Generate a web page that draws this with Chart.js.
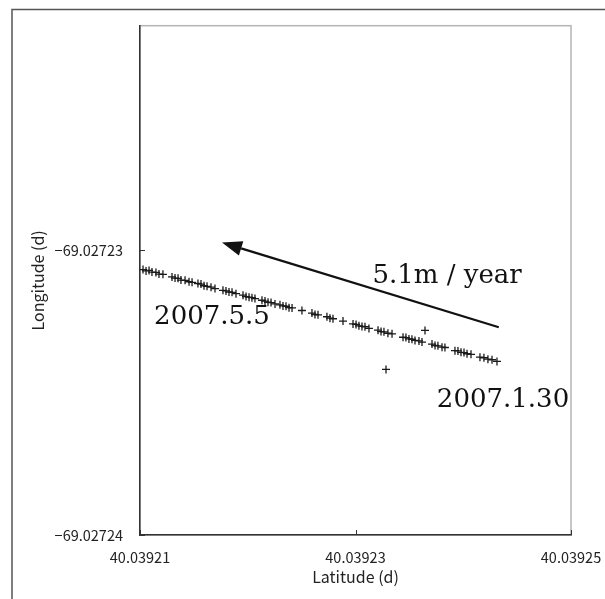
<!DOCTYPE html>
<html>
<head>
<meta charset="utf-8">
<script src="https://cdn.jsdelivr.net/npm/chart.js@4"></script>
<style>
html, body { margin: 0; padding: 0; background: #fff; }
</style>
</head>
<body>
<canvas id="gpsChart" width="605" height="599"></canvas>
<script>
// GPS track: latitude / longitude fixes (degrees)
const latitudes = [
    40.03921028, 40.03921056, 40.03921084, 40.03921111, 40.03921148, 40.03921176, 40.03921213,
    40.03921297, 40.03921325, 40.03921353, 40.03921380, 40.03921418, 40.03921455, 40.03921483,
    40.03921538, 40.03921566, 40.03921594, 40.03921622, 40.03921659, 40.03921696,
    40.03921770, 40.03921798, 40.03921826, 40.03921854, 40.03921891,
    40.03921956, 40.03921984, 40.03922012, 40.03922039, 40.03922067,
    40.03922132, 40.03922160, 40.03922188, 40.03922216, 40.03922253,
    40.03922299, 40.03922327, 40.03922355, 40.03922383, 40.03922411, 40.03922503,
    40.03922596, 40.03922624, 40.03922652, 40.03922735, 40.03922763, 40.03922791, 40.03922884,
    40.03922977, 40.03923005, 40.03923032, 40.03923060, 40.03923088, 40.03923125,
    40.03923209, 40.03923237, 40.03923264, 40.03923301, 40.03923339,
    40.03923441, 40.03923468, 40.03923496, 40.03923524, 40.03923552, 40.03923589, 40.03923617,
    40.03923710, 40.03923738, 40.03923765, 40.03923803, 40.03923830,
    40.03923923, 40.03923951, 40.03923979, 40.03924007, 40.03924035, 40.03924072,
    40.03924155, 40.03924192, 40.03924229, 40.03924267, 40.03924313,
    40.03923283, 40.03923645
];
const longitudes = [
    -69.02723067, -69.02723072, -69.02723070, -69.02723076, -69.02723077, -69.02723083, -69.02723084,
    -69.02723093, -69.02723097, -69.02723098, -69.02723104, -69.02723105, -69.02723110, -69.02723112,
    -69.02723116, -69.02723118, -69.02723124, -69.02723126, -69.02723129, -69.02723134,
    -69.02723140, -69.02723142, -69.02723146, -69.02723147, -69.02723152,
    -69.02723157, -69.02723162, -69.02723164, -69.02723166, -69.02723169,
    -69.02723175, -69.02723178, -69.02723182, -69.02723183, -69.02723188,
    -69.02723191, -69.02723195, -69.02723196, -69.02723201, -69.02723202, -69.02723211,
    -69.02723220, -69.02723225, -69.02723226, -69.02723233, -69.02723238, -69.02723240, -69.02723248,
    -69.02723258, -69.02723260, -69.02723265, -69.02723267, -69.02723268, -69.02723274,
    -69.02723280, -69.02723285, -69.02723286, -69.02723291, -69.02723293,
    -69.02723305, -69.02723306, -69.02723311, -69.02723312, -69.02723316, -69.02723318, -69.02723322,
    -69.02723329, -69.02723334, -69.02723335, -69.02723340, -69.02723341,
    -69.02723352, -69.02723353, -69.02723358, -69.02723359, -69.02723363, -69.02723365,
    -69.02723375, -69.02723377, -69.02723382, -69.02723384, -69.02723390,
    -69.02723418, -69.02723281
];

// Axis ticks
const xTickValues = [40.03921, 40.03923, 40.03925];
const yTickValues = [-69.02724, -69.02723];
const yMaxValue = -69.0272221;

// Annotations (data coordinates)
const arrowTail = [40.03924330, -69.02723270];
const arrowHead = [40.03921761, -69.02722972];
const noteTexts = ['5.1m / year', '2007.5.5', '2007.1.30'];
const noteLats = [40.03923850, 40.03921668, 40.03924369];
const noteLons = [-69.02723091, -69.02723235, -69.02723526];

const points = latitudes.map((lat, i) => ({ x: lat, y: longitudes[i] }));
const labelFont = '"Noto Sans CJK JP", "DejaVu Sans", sans-serif';

// Draw outer frame, plot box, inner tick marks, arrow and notes
const decorPlugin = {
    id: 'decor',
    beforeDraw(chart) {
        const ctx = chart.ctx;
        const area = chart.chartArea;
        ctx.save();
        ctx.fillStyle = '#fff';
        ctx.fillRect(0, 0, chart.width, chart.height);
        ctx.strokeStyle = '#555';
        ctx.lineWidth = 1.5;
        ctx.beginPath();
        ctx.moveTo(12, chart.height);
        ctx.lineTo(12, 9.5);
        ctx.lineTo(chart.width, 9.5);
        ctx.stroke();
        ctx.strokeStyle = '#b4b4b4';
        ctx.lineWidth = 1.5;
        ctx.strokeRect(area.left, area.top, area.right - area.left, area.bottom - area.top);
        ctx.restore();
    },
    afterDraw(chart) {
        const ctx = chart.ctx;
        const xs = chart.scales.x;
        const ys = chart.scales.y;
        const area = chart.chartArea;
        ctx.save();
        // inner ticks
        ctx.strokeStyle = '#333';
        ctx.lineWidth = 1;
        ctx.beginPath();
        yTickValues.forEach(v => {
            const py = Math.round(ys.getPixelForValue(v)) + 0.5;
            ctx.moveTo(area.left, py);
            ctx.lineTo(area.left + 5, py);
        });
        xTickValues.forEach(v => {
            const px = Math.round(xs.getPixelForValue(v)) + 0.5;
            ctx.moveTo(px, area.bottom);
            ctx.lineTo(px, area.bottom - 5);
        });
        ctx.stroke();

        // arrow
        const x1 = xs.getPixelForValue(arrowTail[0]);
        const y1 = ys.getPixelForValue(arrowTail[1]);
        const x2 = xs.getPixelForValue(arrowHead[0]);
        const y2 = ys.getPixelForValue(arrowHead[1]);
        const ang = Math.atan2(y2 - y1, x2 - x1);
        const headLen = 20, headHalf = 7.5;
        const bx = x2 - headLen * Math.cos(ang);
        const by = y2 - headLen * Math.sin(ang);
        ctx.strokeStyle = '#111';
        ctx.fillStyle = '#111';
        ctx.lineWidth = 2.2;
        ctx.beginPath();
        ctx.moveTo(x1, y1);
        ctx.lineTo(bx, by);
        ctx.stroke();
        ctx.beginPath();
        ctx.moveTo(x2, y2);
        ctx.lineTo(bx + headHalf * Math.sin(ang), by - headHalf * Math.cos(ang));
        ctx.lineTo(bx - headHalf * Math.sin(ang), by + headHalf * Math.cos(ang));
        ctx.closePath();
        ctx.fill();

        // notes
        ctx.font = '26px "DejaVu Serif", serif';
        ctx.textAlign = 'center';
        ctx.textBaseline = 'middle';
        noteTexts.forEach((t, i) => {
            ctx.fillText(t, xs.getPixelForValue(noteLats[i]), ys.getPixelForValue(noteLons[i]));
        });
        ctx.restore();
    }
};

const ctx = document.getElementById('gpsChart').getContext('2d');
new Chart(ctx, {
    type: 'scatter',
    data: {
        datasets: [{
            label: 'GPS',
            data: points,
            pointStyle: 'cross',
            pointRadius: 4,
            pointBorderWidth: 1.3,
            borderColor: '#1a1a1a',
            backgroundColor: '#1a1a1a'
        }]
    },
    options: {
        responsive: false,
        animation: false,
        layout: { padding: { left: 28, top: 24, right: 34, bottom: 0 } },
        plugins: {
            legend: { display: false },
            tooltip: { enabled: false }
        },
        scales: {
            x: {
                type: 'linear',
                min: xTickValues[0],
                max: xTickValues[xTickValues.length - 1],
                afterBuildTicks: s => { s.ticks = xTickValues.map(v => ({ value: v })); },
                afterFit: s => { s.height = 64; s.paddingLeft = 0; s.paddingRight = 0; },
                grid: { display: false, drawTicks: false },
                border: { display: true, color: '#333', width: 1.5 },
                ticks: {
                    padding: 14,
                    color: '#222',
                    maxRotation: 0,
                    font: { family: labelFont, size: 14.5 },
                    callback: v => Number(v).toFixed(5)
                },
                title: {
                    display: true,
                    text: 'Latitude (d)',
                    color: '#222',
                    padding: { top: 0, bottom: 12 },
                    font: { family: labelFont, size: 16 }
                }
            },
            y: {
                type: 'linear',
                min: yTickValues[0],
                max: yMaxValue,
                afterBuildTicks: s => { s.ticks = yTickValues.map(v => ({ value: v })); },
                afterFit: s => { s.width = 112; },
                grid: { display: false, drawTicks: false },
                border: { display: true, color: '#333', width: 1.5 },
                ticks: {
                    padding: 17,
                    color: '#222',
                    font: { family: labelFont, size: 14.5 },
                    callback: v => '\u2212' + Math.abs(v).toFixed(5)
                },
                title: {
                    display: true,
                    text: 'Longitude (d)',
                    color: '#222',
                    padding: 0,
                    font: { family: labelFont, size: 16 }
                }
            }
        }
    },
    plugins: [decorPlugin]
});
</script>
</body>
</html>
